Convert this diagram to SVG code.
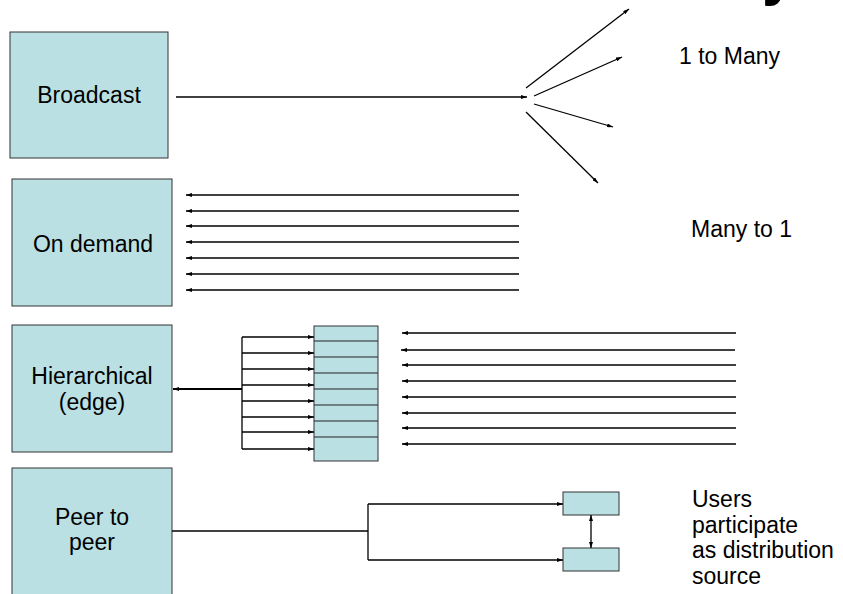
<svg xmlns="http://www.w3.org/2000/svg" width="843" height="594" viewBox="0 0 843 594">
<style>
.box{fill:#BBE0E3;stroke:#333;stroke-width:1}
.lbl{font-family:"Liberation Sans",Arial,sans-serif;font-size:23px;fill:#000}
.ln{stroke:#000;stroke-width:1.3;fill:none}
.ar{stroke:#000;stroke-width:1.3;fill:none;marker-end:url(#ah)}
.div{stroke:#222;stroke-width:1}
</style>
<defs>
<marker id="ah" viewBox="0 0 6 4" refX="6" refY="2" markerWidth="6" markerHeight="4" markerUnits="userSpaceOnUse" orient="auto-start-reverse">
<path d="M0,0 L6,2 L0,4 z" fill="#000"/>
</marker>
</defs>
<rect width="843" height="594" fill="#fff"/>
<text x="762" y="-6" font-family="Liberation Sans,Arial,sans-serif" font-size="60" font-weight="bold" fill="#000">y</text>

<g id="broadcast">
<rect class="box" x="10" y="32" width="158" height="126"/>
<text class="lbl" x="89" y="103" text-anchor="middle">Broadcast</text>
</g>
<g id="ondemand">
<rect class="box" x="12" y="179" width="160" height="127"/>
<text class="lbl" x="93" y="252" text-anchor="middle">On demand</text>
</g>
<g id="hierarchical">
<rect class="box" x="12" y="325" width="160" height="127"/>
<text class="lbl" x="92" y="384" text-anchor="middle">Hierarchical</text>
<text class="lbl" x="92" y="410" text-anchor="middle">(edge)</text>
</g>
<g id="edge-stack">
<rect class="box" x="314" y="326" width="64" height="135"/>
<line class="div" x1="314" y1="341" x2="378" y2="341"/>
<line class="div" x1="314" y1="357" x2="378" y2="357"/>
<line class="div" x1="314" y1="373" x2="378" y2="373"/>
<line class="div" x1="314" y1="389" x2="378" y2="389"/>
<line class="div" x1="314" y1="405" x2="378" y2="405"/>
<line class="div" x1="314" y1="421" x2="378" y2="421"/>
<line class="div" x1="314" y1="437" x2="378" y2="437"/>
</g>
<g id="peer">
<rect class="box" x="12" y="468" width="160" height="140"/>
<text class="lbl" x="92" y="525" text-anchor="middle">Peer to</text>
<text class="lbl" x="92" y="550" text-anchor="middle">peer</text>
</g>
<g id="user1"><rect class="box" x="563" y="492" width="56" height="23"/></g>
<g id="user2"><rect class="box" x="563" y="548" width="56" height="23"/></g>

<g id="labels">
<text class="lbl" x="679" y="64">1 to Many</text>
<text class="lbl" x="691" y="237">Many to 1</text>
<text class="lbl" x="692" y="507">Users</text>
<text class="lbl" x="692" y="533">participate</text>
<text class="lbl" x="692" y="558">as distribution</text>
<text class="lbl" x="692" y="584">source</text>
</g>

<g id="connectors">
<line class="ar" x1="176" y1="97" x2="527" y2="97"/>
<line class="ar" x1="526" y1="88" x2="629" y2="9"/>
<line class="ar" x1="534" y1="96" x2="622" y2="57"/>
<line class="ar" x1="534" y1="104" x2="613" y2="127"/>
<line class="ar" x1="526" y1="112" x2="598" y2="183"/>

<line class="ar" x1="519" y1="195" x2="186" y2="195"/>
<line class="ar" x1="519" y1="211" x2="186" y2="211"/>
<line class="ar" x1="519" y1="226" x2="186" y2="226"/>
<line class="ar" x1="519" y1="242" x2="186" y2="242"/>
<line class="ar" x1="519" y1="258" x2="186" y2="258"/>
<line class="ar" x1="519" y1="274" x2="186" y2="274"/>
<line class="ar" x1="519" y1="290" x2="186" y2="290"/>

<line class="ln" x1="242" y1="337" x2="242" y2="449"/>
<line x1="242" y1="389" x2="173" y2="389" stroke="#000" stroke-width="2.2" marker-end="url(#ah)"/>
<line class="ar" x1="242" y1="337" x2="314" y2="337"/>
<line class="ar" x1="242" y1="353" x2="314" y2="353"/>
<line class="ar" x1="242" y1="369" x2="314" y2="369"/>
<line class="ar" x1="242" y1="385" x2="314" y2="385"/>
<line class="ar" x1="242" y1="401" x2="314" y2="401"/>
<line class="ar" x1="242" y1="417" x2="314" y2="417"/>
<line class="ar" x1="242" y1="432" x2="314" y2="432"/>
<line class="ar" x1="242" y1="449" x2="314" y2="449"/>

<line class="ar" x1="736" y1="333" x2="402" y2="333"/>
<line class="ar" x1="735" y1="350" x2="401" y2="350"/>
<line class="ar" x1="736" y1="365" x2="402" y2="365"/>
<line class="ar" x1="736" y1="381" x2="402" y2="381"/>
<line class="ar" x1="736" y1="397" x2="402" y2="397"/>
<line class="ar" x1="736" y1="413" x2="402" y2="413"/>
<line class="ar" x1="736" y1="428" x2="402" y2="428"/>
<line class="ar" x1="736" y1="444" x2="402" y2="444"/>

<line class="ln" x1="172" y1="531" x2="368" y2="531"/>
<line class="ln" x1="368" y1="504" x2="368" y2="560"/>
<line class="ar" x1="368" y1="504" x2="563" y2="504"/>
<line class="ar" x1="368" y1="560" x2="563" y2="560"/>
<line x1="591" y1="515" x2="591" y2="548" stroke="#000" stroke-width="1.3" marker-start="url(#ah)" marker-end="url(#ah)"/>
</g>
</svg>
